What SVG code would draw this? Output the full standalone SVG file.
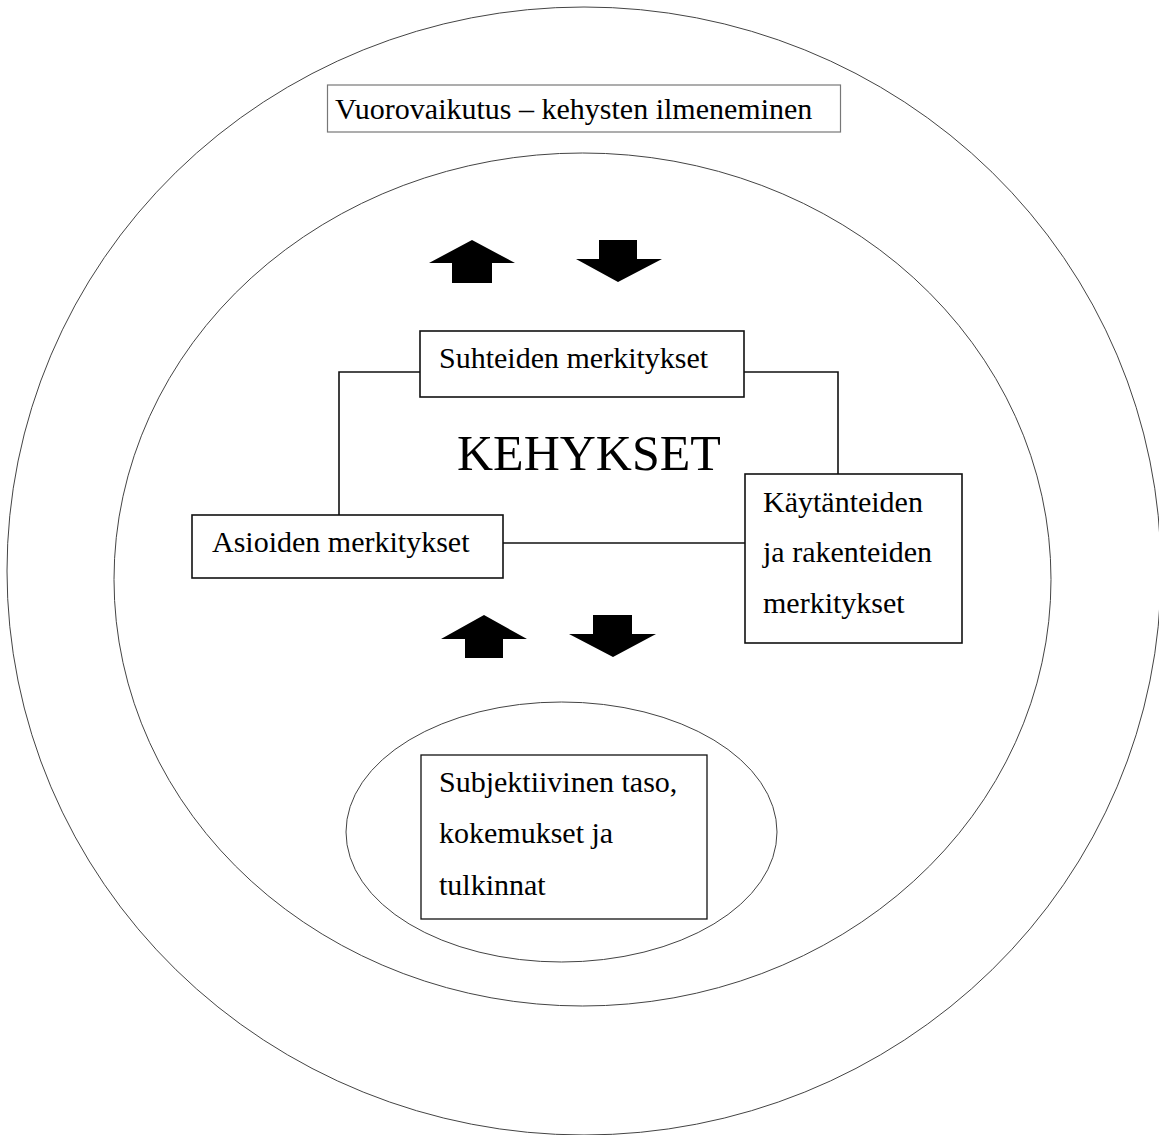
<svg xmlns="http://www.w3.org/2000/svg" width="1159" height="1135" viewBox="0 0 1159 1135">
<style>
.ring{fill:none;stroke:#444;stroke-width:1}
.box{fill:#fff;stroke:#111;stroke-width:1.6}
.tbox{fill:#fff;stroke:#777;stroke-width:1.2}
.lbl{font-family:"Liberation Serif","Times New Roman",serif;font-size:30px;fill:#000}
.big{font-family:"Liberation Serif","Times New Roman",serif;font-size:50px;fill:#000}
.arr{fill:#000}
.conn{fill:none;stroke:#111;stroke-width:1.6}
</style>
<rect width="1159" height="1135" fill="#fff"/>
<g id="outer-ring"><ellipse class="ring" cx="584" cy="571" rx="577" ry="564"/></g>
<g id="inner-ring"><ellipse class="ring" cx="582.5" cy="579.5" rx="468.5" ry="426.5"/></g>
<g id="subjective-ring"><ellipse class="ring" cx="561.5" cy="832" rx="215.5" ry="130"/></g>
<g id="title">
<rect class="tbox" x="327.5" y="85" width="513" height="47"/>
<text class="lbl" x="335" y="119">Vuorovaikutus – kehysten ilmeneminen</text>
</g>
<g id="connectors">
<polyline class="conn" points="420,372 339,372 339,515"/>
<polyline class="conn" points="744,372 838,372 838,474"/>
<line class="conn" x1="503" y1="543" x2="745" y2="543"/>
</g>
<g id="arrows">
<polygon class="arr" points="472,240 515,263 492,263 492,283 452,283 452,263 429,263"/>
<polygon class="arr" points="599,240 637,240 637,259 662,259 618,282 576,259 599,259"/>
<polygon class="arr" points="484,615 527,639 503,639 503,658 465,658 465,639 441,639"/>
<polygon class="arr" points="593,615 632,615 632,634 656,634 613,657 569,634 593,634"/>
</g>
<g id="kehykset"><text class="big" x="457" y="470">KEHYKSET</text></g>
<g id="suhteiden">
<rect class="box" x="420" y="331" width="324" height="66"/>
<text class="lbl" x="439" y="368">Suhteiden merkitykset</text>
</g>
<g id="asioiden">
<rect class="box" x="192" y="515" width="311" height="63"/>
<text class="lbl" x="212" y="552">Asioiden merkitykset</text>
</g>
<g id="kaytanteiden">
<rect class="box" x="745" y="474" width="217" height="169"/>
<text class="lbl" x="763" y="512">Käytänteiden</text>
<text class="lbl" x="763" y="562">ja rakenteiden</text>
<text class="lbl" x="763" y="613">merkitykset</text>
</g>
<g id="subjektiivinen">
<rect class="box" x="421" y="755" width="286" height="164" style="stroke-width:1.3"/>
<text class="lbl" x="439" y="792">Subjektiivinen taso,</text>
<text class="lbl" x="439" y="843">kokemukset ja</text>
<text class="lbl" x="439" y="895">tulkinnat</text>
</g>
</svg>
